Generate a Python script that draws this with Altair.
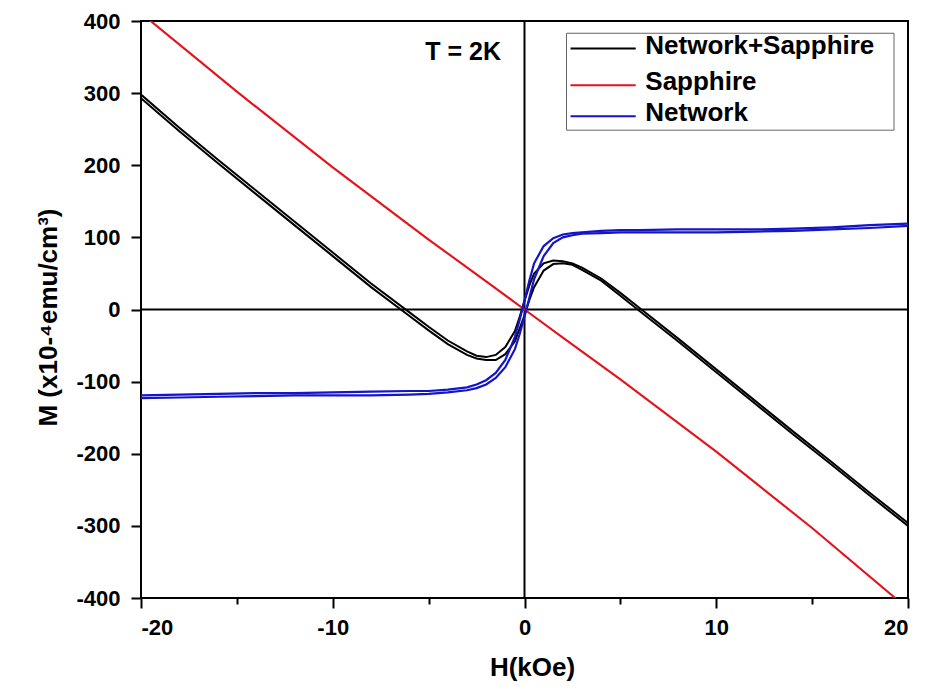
import altair as alt
import pandas as pd

# Field sweep grid (kOe), shared by the loop branches
H = [-20, -18, -16, -14, -12, -10, -8, -6, -5, -4, -3, -2.5, -2, -1.5, -1, -0.5, -0.25,
     0, 0.25, 0.5, 1, 1.5, 2, 2.5, 3, 4, 5, 6, 8, 10, 12, 14, 16, 18, 20]

# Network: upper (field decreasing) and lower (field increasing) branches
net_down = [-119, -118, -117, -116, -116, -115, -114, -113, -113, -111, -108, -104, -98,
            -88, -70, -38, -14, 12, 40, 64, 88, 99, 104, 106, 107, 109, 110, 110, 111,
            111, 111, 112, 114, 117, 119]
net_up = [-123, -122, -121, -120, -119, -119, -119, -118, -117, -115, -112, -109, -104,
          -95, -80, -55, -34, -10, 16, 42, 74, 92, 100, 103, 105, 106, 107, 107, 107,
          107, 108, 109, 111, 113, 116]

# Network+Sapphire: upper and lower branches
both_down = [298, 252, 208, 165, 122, 79, 36, -4, -24, -43, -58, -64, -66, -63, -52, -30,
             -10, 12, 33, 50, 64, 68, 67, 64, 58, 43, 23, 2, -40, -83, -126, -169, -211,
             -254, -296]
both_up = [293, 247, 203, 160, 117, 74, 31, -9, -29, -48, -63, -68, -70, -70, -62, -44,
           -26, -8, 13, 31, 54, 63, 64, 62, 55, 40, 19, -2, -44, -87, -130, -173, -215,
           -258, -300]

# Sapphire substrate (diamagnetic)
H_sap = [-20, -15, -10, -5, -2, 0, 2, 5, 10, 15, 20]
sap = [411, 302, 197, 97, 39, 0, -39, -97, -197, -303, -415]

series_names = ["Network+Sapphire", "Sapphire", "Network"]
series_colors = ["#000000", "#e5121b", "#1414c8"]
series_widths = [2.0, 2.2, 2.0]

rows = []
for name, branch, hs, ms in [
    ("Network+Sapphire", "down", H, both_down),
    ("Network+Sapphire", "up", H, both_up),
    ("Sapphire", "single", H_sap, sap),
    ("Network", "down", H, net_down),
    ("Network", "up", H, net_up),
]:
    for i, (h, m) in enumerate(zip(hs, ms)):
        rows.append({"H": h, "M": m, "series": name, "trace": f"{name}-{branch}", "i": i})
df = pd.DataFrame(rows)

# Legend entries and the temperature note, placed in data units
legend_df = pd.DataFrame({
    "series": series_names,
    "x1": [2.4, 2.4, 2.4],
    "x2": [5.8, 5.8, 5.8],
    "xt": [6.3, 6.3, 6.3],
    "yl": [362, 311, 268],
    "yt": [366, 315, 272],
})
legend_box = pd.DataFrame({"x1": [2.19], "x2": [19.27], "y1": [383], "y2": [248.6]})
note_df = pd.DataFrame({"H": [-3.2], "M": [357], "label": ["T = 2K"]})
zero_x = pd.DataFrame({"H": [0]})
zero_y = pd.DataFrame({"M": [0]})

FONT = "Liberation Sans"

x_scale = alt.Scale(domain=[-20, 20], nice=False, zero=False)
y_scale = alt.Scale(domain=[-400, 400], nice=False, zero=False)

x_axis = alt.Axis(
    values=list(range(-20, 21, 5)),
    labelExpr="datum.value % 10 === 0 ? '' + datum.value : ''",
    tickSize={"condition": {"test": "datum.value % 10 !== 0", "value": 6}, "value": 10},
    labelPadding=9,
    title="H(kOe)",
    titleX=391,
    titleY=69,
    titleBaseline="middle",
)
y_axis = alt.Axis(
    values=list(range(-400, 401, 50)),
    labelExpr="datum.value % 100 === 0 ? '' + datum.value : ''",
    tickSize={"condition": {"test": "datum.value % 100 !== 0", "value": 6}, "value": 10},
    labelPadding=11,
    title="M (x10-⁴emu/cm³)",
    titleX=-93,
    titleY=296,
    titleBaseline="middle",
)

color = alt.Color("series:N", scale=alt.Scale(domain=series_names, range=series_colors), legend=None)

lines = alt.Chart(df).mark_line(clip=True).encode(
    x=alt.X("H:Q", scale=x_scale, axis=x_axis),
    y=alt.Y("M:Q", scale=y_scale, axis=y_axis),
    color=color,
    strokeWidth=alt.StrokeWidth("series:N", scale=alt.Scale(domain=series_names, range=series_widths), legend=None),
    detail="trace:N",
    order="i:Q",
)

vline = alt.Chart(zero_x).mark_rule(color="black", strokeWidth=2).encode(x=alt.X("H:Q", scale=x_scale))
hline = alt.Chart(zero_y).mark_rule(color="black", strokeWidth=2).encode(y=alt.Y("M:Q", scale=y_scale))

note = alt.Chart(note_df).mark_text(font=FONT, fontSize=25, fontWeight="bold", color="black").encode(
    x=alt.X("H:Q", scale=x_scale), y=alt.Y("M:Q", scale=y_scale), text="label:N"
)

box = alt.Chart(legend_box).mark_rect(fill="white", stroke="#666666", strokeWidth=1).encode(
    x=alt.X("x1:Q", scale=x_scale), x2="x2:Q",
    y=alt.Y("y1:Q", scale=y_scale), y2="y2:Q",
)
leg_lines = alt.Chart(legend_df).mark_rule(strokeWidth=2).encode(
    x=alt.X("x1:Q", scale=x_scale), x2="x2:Q",
    y=alt.Y("yl:Q", scale=y_scale),
    color=color,
)
leg_text = alt.Chart(legend_df).mark_text(
    font=FONT, fontSize=26, fontWeight="bold", align="left", baseline="middle", color="black"
).encode(
    x=alt.X("xt:Q", scale=x_scale), y=alt.Y("yt:Q", scale=y_scale), text="series:N"
)

chart = alt.layer(vline, hline, lines, note, box, leg_lines, leg_text).properties(
    width=767,
    height=577,
    autosize=alt.AutoSizeParams(type="none"),
    padding={"left": 141, "top": 21, "right": 17, "bottom": 88},
    background="white",
).configure_view(
    stroke="black", strokeWidth=2
).configure_axis(
    grid=False,
    domain=False,
    tickColor="black",
    tickWidth=2,
    labelFont=FONT,
    labelFontSize=22,
    labelFontWeight="bold",
    labelColor="black",
    titleFont=FONT,
    titleFontSize=26,
    titleFontWeight="bold",
    titleColor="black",
)

chart.save("out.html", embed_options={"renderer": "svg", "actions": False})
